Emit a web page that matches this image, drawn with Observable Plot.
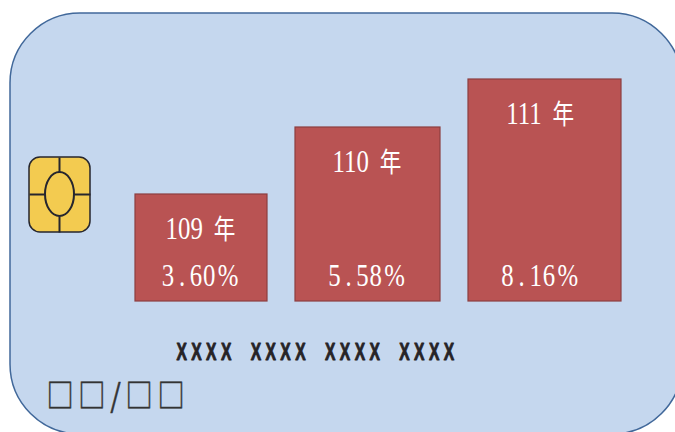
<!DOCTYPE html>
<html>
<head>
<meta charset="utf-8">
<script src="https://cdn.jsdelivr.net/npm/d3@7"></script>
<script src="https://cdn.jsdelivr.net/npm/@observablehq/plot@0.6"></script>
<style>
html,body{margin:0;padding:0;background:#fff}
svg{display:block}
.card-number text{letter-spacing:6.5px;word-spacing:9px}
.expiry text{letter-spacing:5.5px}
.rate-label text{letter-spacing:1px}
.year-label text{word-spacing:6px}
</style>
</head>
<body>
<div id="chart"></div>
<script>
// Chart values
const years = [109, 110, 111];
const rates = [3.60, 5.58, 8.16];
const rateLabels = ["3.60%", "5.58%", "8.16%"];
const yearLabels = ["109 年", "110 年", "111 年"];
const cardNumber = ["XXXX XXXX XXXX XXXX"];
const expiry = ["□□/□□"];
const rows = years.map((year, i) => ({year, rate: rates[i], yearLabel: yearLabels[i], rateLabel: rateLabels[i]}));

// Unscaled (pixel) channel for the card decoration
const px = (v) => ({value: () => v, scale: null});
const one = [0];
const serif = "'Liberation Serif','Noto Sans CJK TC',serif";
const ink = "#26262E";
// The last bar's labels sit slightly left of its centre.
const labelX = d => d.year === 111 ? d.year - 0.02 : d.year;

const chart = Plot.plot({
  width: 675,
  height: 432,
  margin: 0,
  style: {background: "#fff"},
  x: {axis: null, type: "linear",
      domain: [108.6, 109.4, 109.6, 110.4, 110.6, 111.4],
      range: [135, 267, 295, 440, 468, 621]},
  y: {axis: null, type: "linear",
      domain: [0, 3.60, 5.58, 8.16],
      range: [301, 194, 127, 79]},
  marks: [
    // card body
    Plot.rect(one, {x1: px(10), x2: px(682), y1: px(13), y2: px(434), rx: 70,
      fill: "#C5D7EE", stroke: "#41689A", strokeWidth: 1.5}),
    // chip
    Plot.rect(one, {x1: px(29), x2: px(90), y1: px(157), y2: px(232), rx: 11,
      fill: "#F3CB50", stroke: ink, strokeWidth: 1.5}),
    Plot.link(one, {x1: px(59), x2: px(59), y1: px(157), y2: px(172), stroke: ink, strokeWidth: 2}),
    Plot.link(one, {x1: px(59), x2: px(59), y1: px(216), y2: px(232), stroke: ink, strokeWidth: 2}),
    Plot.link(one, {x1: px(29), x2: px(45), y1: px(194), y2: px(194), stroke: ink, strokeWidth: 2}),
    Plot.link(one, {x1: px(74), x2: px(90), y1: px(194), y2: px(194), stroke: ink, strokeWidth: 2}),
    Plot.rect(one, {x1: px(45), x2: px(74), y1: px(172), y2: px(216), rx: 14.5, ry: 22,
      fill: "#F3CB50", stroke: ink, strokeWidth: 2}),
    // bars
    Plot.rect(rows, {x1: d => d.year - 0.4, x2: d => d.year + 0.4, y1: () => 0, y2: "rate",
      fill: "#B95353", stroke: "#8C3E40", strokeWidth: 1.2}),
    // bar labels
    Plot.text(rows, {x: labelX, y: "rate", text: "yearLabel", dy: 35, dx: -1, className: "year-label",
      fill: "#fff", fontFamily: serif, fontSize: 31}),
    Plot.text(rows, {x: labelX, y: () => 0, text: "rateLabel", dy: -25, dx: -1, className: "rate-label",
      fill: "#fff", fontFamily: serif, fontSize: 31}),
    // card number and expiry
    Plot.text(cardNumber, {x: px(317), y: px(352), text: d => d, className: "card-number",
      fill: "#262326", stroke: "#262326", strokeWidth: 0.9, fontFamily: "'Liberation Sans',sans-serif",
      fontWeight: "bold", fontSize: 23}),
    Plot.text(expiry, {x: px(46), y: px(396), text: d => d, textAnchor: "start", className: "expiry",
      fill: "#333", stroke: "#333", strokeWidth: 0.5, fontFamily: "'Noto Sans CJK TC',sans-serif", fontSize: 32})
  ]
});

// Condense glyphs to the narrow letterforms of the reference; text stays real text.
const squeeze = (selector, sx) => chart.querySelectorAll(selector + " text").forEach(t => {
  t.setAttribute("transform", (t.getAttribute("transform") || "") + ` scale(${sx},1)`);
});
squeeze(".year-label", 0.8);
squeeze(".rate-label", 0.8);
squeeze(".card-number", 0.68);
squeeze(".expiry", 0.85);

// The year sign is set a little smaller than the digits.
chart.querySelectorAll(".year-label text").forEach(t => {
  const [num, sign] = t.textContent.split(" ");
  t.textContent = num + " ";
  const span = document.createElementNS("http://www.w3.org/2000/svg", "tspan");
  span.setAttribute("font-size", 27);
  span.textContent = sign;
  t.appendChild(span);
});
// The decimal point takes a wider cell, as in the reference.
chart.querySelectorAll(".rate-label text").forEach(t => t.setAttribute("dx", "0 5 5 0 2"));

document.getElementById("chart").appendChild(chart);
</script>
</body>
</html>
